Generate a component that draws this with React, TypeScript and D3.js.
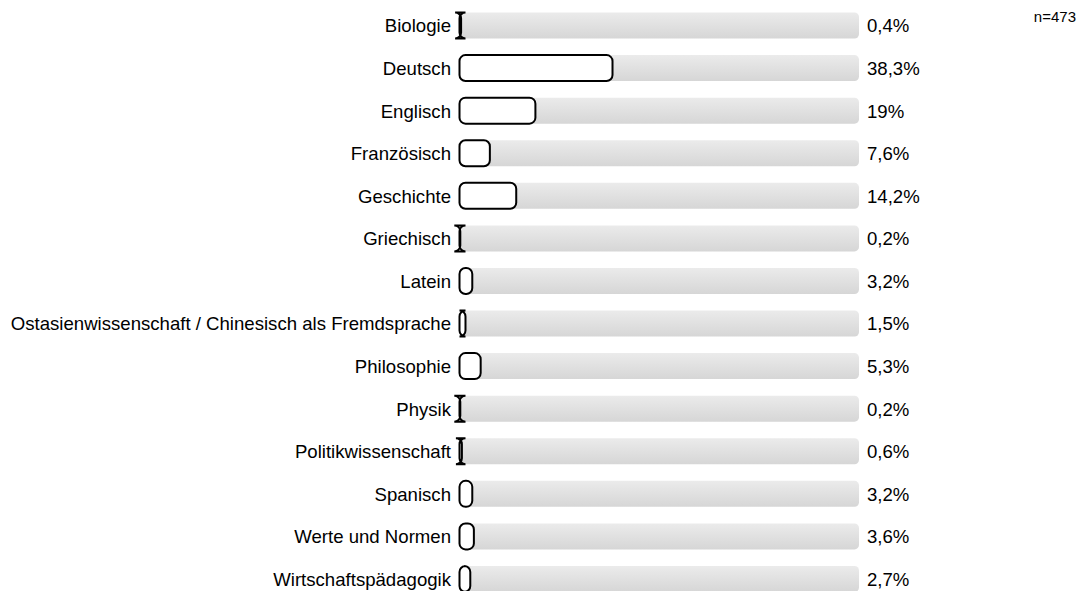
import React from "react";
import * as d3 from "d3";

const categories = [
  "Biologie",
  "Deutsch",
  "Englisch",
  "Französisch",
  "Geschichte",
  "Griechisch",
  "Latein",
  "Ostasienwissenschaft / Chinesisch als Fremdsprache",
  "Philosophie",
  "Physik",
  "Politikwissenschaft",
  "Spanisch",
  "Werte und Normen",
  "Wirtschaftspädagogik",
];
const values = [0.4, 38.3, 19, 7.6, 14.2, 0.2, 3.2, 1.5, 5.3, 0.2, 0.6, 3.2, 3.6, 2.7];
const valueLabels = ["0,4%", "38,3%", "19%", "7,6%", "14,2%", "0,2%", "3,2%", "1,5%", "5,3%", "0,2%", "0,6%", "3,2%", "3,6%", "2,7%"];
const nLabel = "n=473";

function roundedPath(x: number, y: number, w: number, h: number, r: number) {
  return `M${x + r},${y}H${x + w - r}A${r},${r} 0 0 1 ${x + w},${y + r}V${y + h - r}A${r},${r} 0 0 1 ${x + w - r},${y + h}H${x + r}A${r},${r} 0 0 1 ${x},${y + h - r}V${y + r}A${r},${r} 0 0 1 ${x + r},${y}Z`;
}

export default function App() {
  const W = 1080, H = 591;
  const x = d3.scaleLinear().domain([0, 100]).range([459.5, 859]);
  const y = d3.scalePoint<string>().domain(categories).range([25.5, 579]);
  const bh = 26;
  const font = "Arial, 'Liberation Sans', Helvetica, sans-serif";
  return (
    <svg width={W} height={H} style={{ position: "absolute", left: 0, top: 0 }} fontFamily={font}>
      <defs>
        <linearGradient id="bg" x1="0" y1="0" x2="0" y2="1">
          <stop offset="0" stopColor="#ebebeb" />
          <stop offset="1" stopColor="#d6d6d6" />
        </linearGradient>
      </defs>
      <rect width={W} height={H} fill="#fff" />
      {categories.map((c, i) => {
        const cy = y(c)!;
        return (
          <g key={c}>
            <rect x={x(0)} y={cy - bh / 2} width={x(100) - x(0)} height={bh} rx={4.5} fill="url(#bg)" />
            <path d={roundedPath(x(0), cy - bh / 2, x(values[i]) - x(0), bh, 6)} fill="#fff" stroke="#000" strokeWidth={2} />
            <text x={451} y={cy} dy="0.37em" textAnchor="end" fontSize={18.6} fill="#000">{c}</text>
            <text x={867} y={cy} dy="0.37em" fontSize={18.6} fill="#000">{valueLabels[i]}</text>
          </g>
        );
      })}
      <text x={1076} y={21.5} textAnchor="end" fontSize={15} fill="#000">{nLabel}</text>
    </svg>
  );
}
